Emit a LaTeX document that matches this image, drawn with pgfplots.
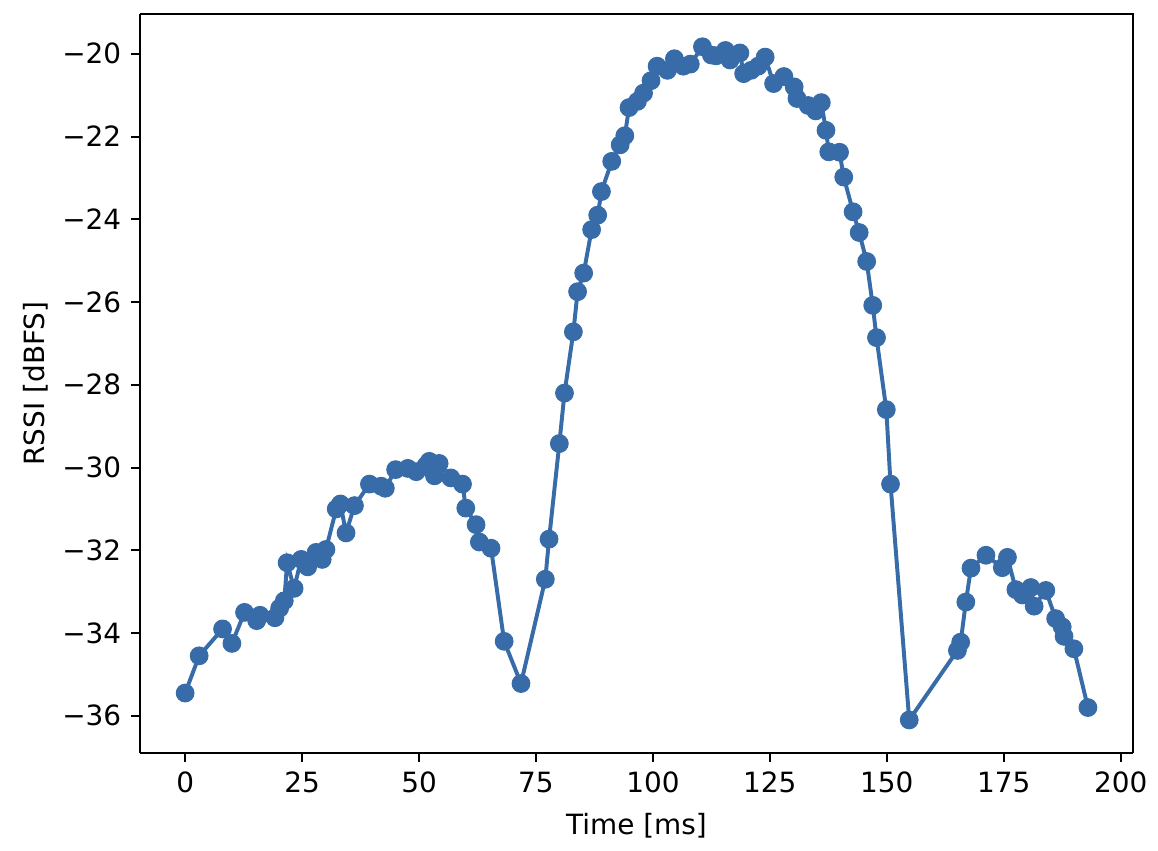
\documentclass[border=0pt]{standalone}
\usepackage{pgfplots}
\pgfplotsset{compat=1.18}
\usepackage{fontspec}
\setmainfont{DejaVu Sans}
\definecolor{trace}{RGB}{56,108,168}

\begin{document}
\begin{tikzpicture}
\begin{axis}[
  scale only axis,
  width=402.2pt, height=299.3pt,
  xmin=-9.65, xmax=202.65,
  ymin=-36.9, ymax=-19.04,
  axis line style={line width=0.8pt},
  every tick/.style={black, line width=0.8pt},
  tick align=outside,
  major tick length=3.6pt,
  axis x line*=bottom, axis y line*=left,
  xtick={0,25,50,75,100,125,150,175,200},
  ytick={-36,-34,-32,-30,-28,-26,-24,-22,-20},
  yticklabels={−36,−34,−32,−30,−28,−26,−24,−22,−20},
  /pgf/number format/assume math mode=true,
  tick label style={font=\fontsize{11.3}{13}\selectfont},
  xticklabel style={yshift=-0.5pt},
  yticklabel style={xshift=-0.5pt},
  xlabel={Time [ms]},
  ylabel={RSSI [dBFS]},
  label style={font=\fontsize{11.3}{13}\selectfont},
  xlabel style={at={(axis description cs:0.5,-0.0988)}, anchor=center},
  ylabel style={at={(axis description cs:-0.1047,0.5)}, anchor=center, rotate=0},
  clip=false,
]
% extra frame edges on top and right
\draw[line width=0.8pt] (rel axis cs:0,1) -- (rel axis cs:1,1) -- (rel axis cs:1,0);
\addplot[color=trace, line width=1.6pt, mark=*, mark size=3.6pt,
         mark options={fill=trace, draw=trace, line width=0.4pt}]
coordinates {
(0.0,-35.45) (3.0,-34.55) (8.0,-33.90) (10.0,-34.25) (12.7,-33.50)
(15.3,-33.70) (16.0,-33.57) (19.2,-33.63) (20.2,-33.40) (21.2,-33.22)
(21.8,-32.30) (23.3,-32.92) (24.8,-32.22) (26.2,-32.40) (28.0,-32.05)
(29.3,-32.22) (30.1,-31.98) (32.3,-31.00) (33.2,-30.88) (34.4,-31.58)
(36.2,-30.92) (39.4,-30.40) (41.9,-30.45) (42.8,-30.50) (45.0,-30.05)
(47.6,-30.02) (49.4,-30.10) (51.5,-29.95) (52.2,-29.85) (53.3,-30.20)
(54.3,-29.90) (56.8,-30.25) (59.3,-30.40) (60.0,-30.98) (62.2,-31.38)
(62.9,-31.80) (65.4,-31.95) (68.2,-34.20) (71.8,-35.22) (77.0,-32.70)
(77.8,-31.73) (80.0,-29.42) (81.1,-28.20) (83.0,-26.72) (83.9,-25.75)
(85.2,-25.30) (86.9,-24.25) (88.2,-23.90) (89.0,-23.33) (91.2,-22.60)
(93.0,-22.20) (94.0,-21.98) (94.9,-21.30) (96.7,-21.15) (98.0,-20.95)
(99.6,-20.65) (100.9,-20.30) (103.1,-20.40) (104.6,-20.12) (106.5,-20.30)
(108.0,-20.25) (110.6,-19.83) (112.5,-20.03) (113.5,-20.05) (115.5,-19.92)
(116.5,-20.15) (118.6,-19.98) (119.4,-20.48) (121.0,-20.40) (122.5,-20.30)
(124.0,-20.08) (125.8,-20.72) (128.0,-20.55) (130.2,-20.80) (130.8,-21.08)
(133.2,-21.25) (134.8,-21.38) (136.0,-21.18) (137.0,-21.85) (137.6,-22.37)
(139.9,-22.38) (140.8,-22.98) (142.8,-23.82) (144.1,-24.32) (145.7,-25.02)
(147.0,-26.08) (147.8,-26.86) (149.9,-28.60) (150.8,-30.40) (154.8,-36.10)
(165.1,-34.42) (165.8,-34.22) (166.9,-33.25) (168.0,-32.43) (171.2,-32.12)
(174.7,-32.42) (175.8,-32.17) (177.6,-32.95) (179.0,-33.08) (180.8,-32.90)
(181.5,-33.35) (184.0,-32.97) (186.1,-33.65) (187.5,-33.85) (187.9,-34.08)
(190.0,-34.38) (193.0,-35.80)
};
\end{axis}
\pgfresetboundingbox
\useasboundingbox ([xshift=-56.7pt,yshift=-39.3pt]current axis.south west)
  rectangle ([xshift=10.1pt,yshift=5.7pt]current axis.north east);
\end{tikzpicture}
\end{document}
